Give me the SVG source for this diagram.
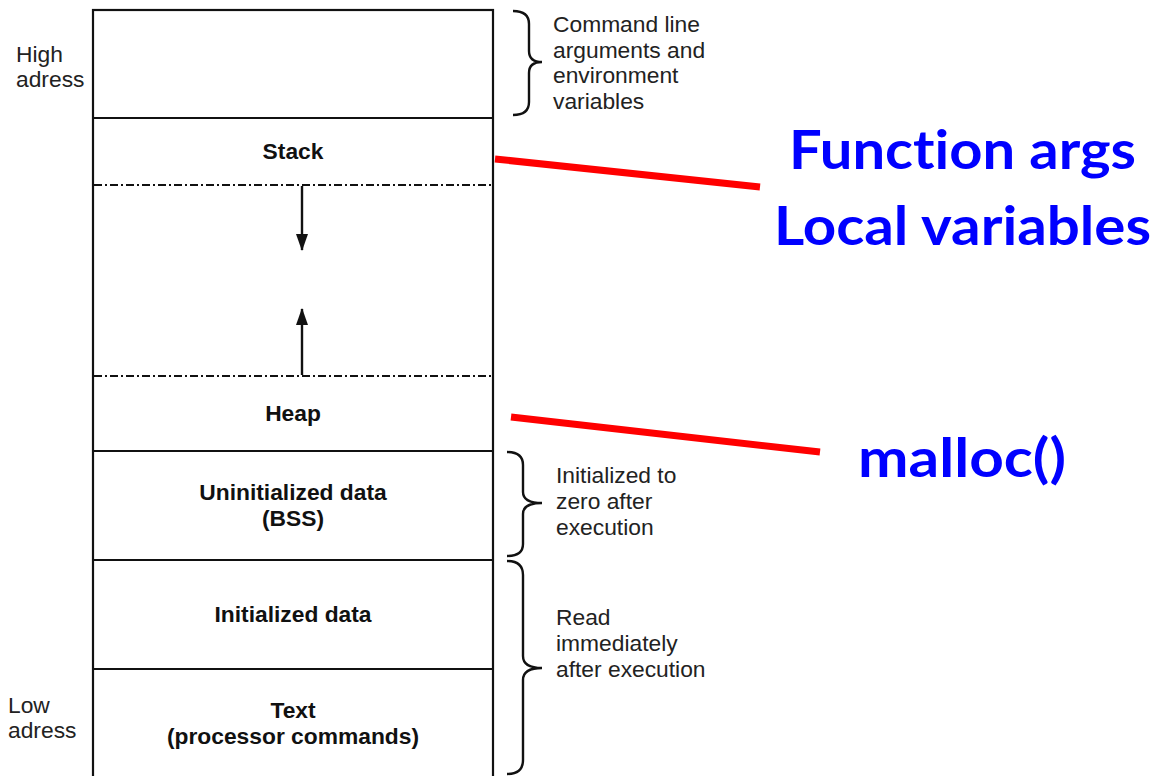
<svg xmlns="http://www.w3.org/2000/svg" width="1154" height="776" viewBox="0 0 1154 776">
<style>
.box{fill:#fff;stroke:#111;stroke-width:2.2}
.sep{stroke:#111;stroke-width:2.2}
.dd{stroke:#111;stroke-width:2;stroke-dasharray:8 3 2 3}
.lbl{font-family:"Liberation Sans",Arial,sans-serif;font-weight:bold;font-size:22.8px;fill:#111;text-anchor:middle}
.side{font-family:"Liberation Sans",Arial,sans-serif;font-size:22.8px;fill:#222}
.brace{fill:none;stroke:#111;stroke-width:2.4}
.red{stroke:#ff0000;stroke-width:7}
.blue{font-family:Lato,"Open Sans",sans-serif;font-weight:bold;font-size:54px;fill:#0000ff;font-variant-ligatures:none}
.arr{stroke:#111;stroke-width:2.4}
</style>
<defs>
<marker id="ah" viewBox="0 0 17 12" refX="16" refY="6" markerWidth="17" markerHeight="12" orient="auto" markerUnits="userSpaceOnUse">
<path d="M0,0 L17,6 L0,12 z" fill="#111"/>
</marker>
</defs>
<rect width="1154" height="776" fill="#fff"/>
<g id="memory">
<rect class="box" x="93" y="10" width="400" height="780"/>
<line class="sep" x1="93" y1="118" x2="493" y2="118"/>
<line class="dd" x1="94" y1="185" x2="492" y2="185"/>
<line class="dd" x1="94" y1="376" x2="492" y2="376"/>
<line class="sep" x1="93" y1="451" x2="493" y2="451"/>
<line class="sep" x1="93" y1="560" x2="493" y2="560"/>
<line class="sep" x1="93" y1="669" x2="493" y2="669"/>
</g>
<g id="stack"><text class="lbl" x="293" y="159">Stack</text></g>
<g id="heap"><text class="lbl" x="293" y="421">Heap</text></g>
<g id="bss"><text class="lbl" x="293" y="500">Uninitialized data</text><text class="lbl" x="293" y="526">(BSS)</text></g>
<g id="init"><text class="lbl" x="293" y="622">Initialized data</text></g>
<g id="text"><text class="lbl" x="293" y="718">Text</text><text class="lbl" x="293" y="744">(processor commands)</text></g>
<g id="addr">
<text class="side" x="16" y="62">High</text><text class="side" x="16" y="87">adress</text>
<text class="side" x="8" y="713">Low</text><text class="side" x="8" y="738">adress</text>
</g>
<g id="connectors">
<line class="arr" x1="302" y1="186" x2="302" y2="250" marker-end="url(#ah)"/>
<line class="arr" x1="302" y1="375" x2="302" y2="309" marker-end="url(#ah)"/>
<line class="red" x1="495" y1="159" x2="760" y2="187"/>
<line class="red" x1="511" y1="417" x2="820" y2="452"/>
</g>
<g id="braces">
<path class="brace" d="M513,11 Q529,11 529,24 L529,51 Q529,62 542,62 Q529,62 529,73 L529,102 Q529,115 513,115"/>
<path class="brace" d="M507,452 Q523,452 523,465 L523,492 Q523,503 542,503 Q523,503 523,514 L523,544 Q523,556 507,556"/>
<path class="brace" d="M507,561 Q523,561 523,575 L523,656 Q523,668 542,668 Q523,668 523,680 L523,760 Q523,774 507,774"/>
</g>
<g id="notes">
<text class="side" x="553" y="32">Command line</text>
<text class="side" x="553" y="58">arguments and</text>
<text class="side" x="553" y="83">environment</text>
<text class="side" x="553" y="109">variables</text>
<text class="side" x="556" y="483">Initialized to</text>
<text class="side" x="556" y="509">zero after</text>
<text class="side" x="556" y="535">execution</text>
<text class="side" x="556" y="625">Read</text>
<text class="side" x="556" y="651">immediately</text>
<text class="side" x="556" y="677">after execution</text>
</g>
<g id="callouts">
<text class="blue" x="789" y="169" textLength="347" lengthAdjust="spacingAndGlyphs">Function args</text>
<text class="blue" x="774" y="245" textLength="377" lengthAdjust="spacingAndGlyphs">Local variables</text>
<text class="blue" x="858" y="477" textLength="208" lengthAdjust="spacingAndGlyphs">malloc()</text>
</g>
</svg>
